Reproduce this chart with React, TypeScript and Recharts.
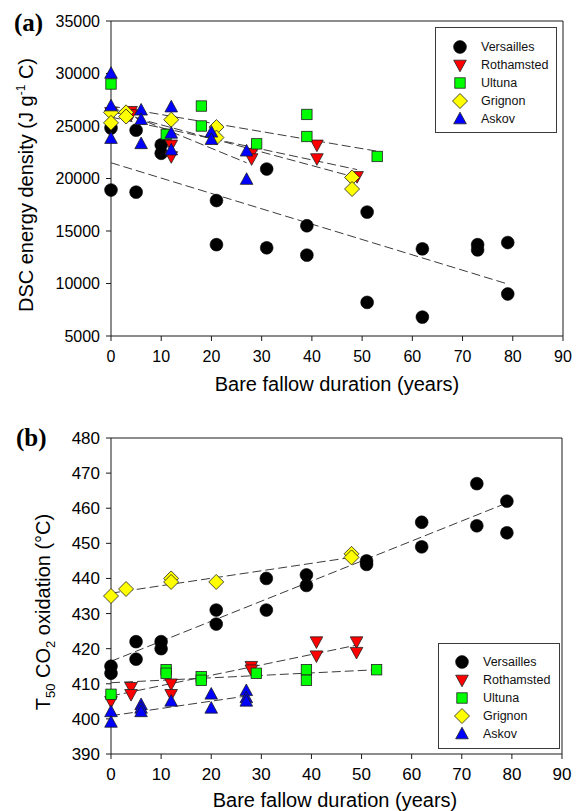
import React from 'react';
import { ScatterChart, Scatter, XAxis, YAxis, ReferenceLine, Legend } from 'recharts';

const FONT = 'Arial, "Liberation Sans", Helvetica, sans-serif';

type MarkerKind = 'circle' | 'down' | 'square' | 'diamond' | 'up';

const siteNames = ['Versailles', 'Rothamsted', 'Ultuna', 'Grignon', 'Askov'];
const siteColors = ['#000000', '#ff0000', '#00ff00', '#ffff00', '#0000ff'];
const siteMarkers: MarkerKind[] = ['circle', 'down', 'square', 'diamond', 'up'];

const yearTicks = [0, 10, 20, 30, 40, 50, 60, 70, 80, 90];
const energyTicks = [5000, 10000, 15000, 20000, 25000, 30000, 35000];
const t50Ticks = [390, 400, 410, 420, 430, 440, 450, 460, 470, 480];

// (a) DSC energy density, J g-1 C
const versaillesYearsA = [0, 0, 5, 5, 10, 10, 21, 21, 31, 31, 39, 39, 51, 51, 62, 62, 73, 73, 79, 79];
const versaillesEnergy = [24800, 18900, 24600, 18700, 23200, 22400, 17900, 13700, 20900, 13400, 15500, 12700, 16800, 8200, 13300, 6800, 13700, 13200, 13900, 9000];
const rothamstedYearsA = [0, 4, 4, 12, 12, 28, 28, 41, 41, 49];
const rothamstedEnergy = [26300, 26400, 26100, 23200, 22100, 22400, 21900, 23200, 21900, 20200];
const ultunaYearsA = [0, 11, 18, 18, 29, 39, 39, 53];
const ultunaEnergy = [29000, 24200, 26900, 25000, 23300, 26100, 24000, 22100];
const grignonYearsA = [0, 0, 3, 3, 12, 21, 21, 48, 48];
const grignonEnergy = [26300, 25300, 26300, 25900, 25600, 24900, 23900, 20100, 19000];
const askovYearsA = [0, 0, 0, 6, 6, 6, 12, 12, 12, 20, 20, 27, 27];
const askovEnergy = [30000, 26900, 23800, 26500, 25600, 23300, 26800, 24300, 22700, 24400, 23700, 22600, 19900];

// (a) regression lines, end points
const versaillesFitA = [[0, 79], [21500, 9950]];
const rothamstedFitA = [[0, 49], [25850, 20850]];
const ultunaFitA = [[0, 53], [26900, 22600]];
const grignonFitA = [[0, 48], [26400, 20200]];
const askovFitA = [[0, 27], [26800, 21500]];

// (b) T50 CO2 oxidation, °C
const versaillesYearsB = [0, 0, 5, 5, 10, 10, 21, 21, 31, 31, 39, 39, 51, 51, 62, 62, 73, 73, 79, 79];
const versaillesT50 = [415, 413, 422, 417, 422, 420, 431, 427, 440, 431, 441, 438, 445, 444, 456, 449, 467, 455, 462, 453];
const rothamstedYearsB = [0, 4, 4, 12, 12, 28, 28, 41, 41, 49, 49];
const rothamstedT50 = [405, 409, 407, 410, 407, 415, 414, 422, 418, 422, 419];
const ultunaYearsB = [0, 11, 11, 18, 18, 29, 39, 39, 53];
const ultunaT50 = [407, 414, 413, 412, 411, 413, 414, 411, 414];
const grignonYearsB = [0, 3, 12, 12, 21, 48, 48];
const grignonT50 = [435, 437, 440, 439, 439, 447, 446];
const askovYearsB = [0, 0, 6, 6, 6, 12, 20, 20, 27, 27, 27];
const askovT50 = [402, 399, 404, 403, 402, 405, 407, 403, 408, 406, 405];

const versaillesFitB = [[0, 79], [416.4, 461.5]];
const rothamstedFitB = [[0, 49], [406.5, 421]];
const ultunaFitB = [[0, 53], [410.3, 414]];
const grignonFitB = [[0, 48], [435.8, 446]];
const askovFitB = [[0, 27], [400.9, 406.5]];

const pts = (xs: number[], ys: number[]) => xs.map((x, i) => ({ x, y: ys[i] }));
const fitPts = (f: number[][]) => pts(f[0], f[1]);

const energySeries = [
  pts(versaillesYearsA, versaillesEnergy),
  pts(rothamstedYearsA, rothamstedEnergy),
  pts(ultunaYearsA, ultunaEnergy),
  pts(grignonYearsA, grignonEnergy),
  pts(askovYearsA, askovEnergy),
];
const energyFits = [versaillesFitA, rothamstedFitA, ultunaFitA, grignonFitA, askovFitA].map(fitPts);

const t50Series = [
  pts(versaillesYearsB, versaillesT50),
  pts(rothamstedYearsB, rothamstedT50),
  pts(ultunaYearsB, ultunaT50),
  pts(grignonYearsB, grignonT50),
  pts(askovYearsB, askovT50),
];
const t50Fits = [versaillesFitB, rothamstedFitB, ultunaFitB, grignonFitB, askovFitB].map(fitPts);

function Marker({ kind, fill, cx, cy }: { kind: MarkerKind; fill: string; cx: number; cy: number }) {
  const stroke = '#202020';
  if (kind === 'circle') return <circle cx={cx} cy={cy} r={6.4} fill={fill} stroke="#000" strokeWidth={0.6} />;
  if (kind === 'square') {
    return <rect x={cx - 5.2} y={cy - 5.2} width={10.4} height={10.4} fill={fill} stroke={stroke} strokeWidth={0.8} />;
  }
  if (kind === 'diamond') {
    return (
      <polygon
        points={`${cx},${cy - 7.5} ${cx + 7.5},${cy} ${cx},${cy + 7.5} ${cx - 7.5},${cy}`}
        fill={fill}
        stroke={stroke}
        strokeWidth={0.8}
      />
    );
  }
  const d = kind === 'up' ? 1 : -1;
  return (
    <polygon
      points={`${cx - 6.3},${cy + 4.8 * d} ${cx + 6.3},${cy + 4.8 * d} ${cx},${cy - 6.8 * d}`}
      fill={fill}
      stroke={stroke}
      strokeWidth={0.8}
    />
  );
}

const LegendBox = ({ width, height, padTop, markerX, textX }: any) => (
  <div
    style={{
      width,
      height,
      boxSizing: 'border-box',
      border: '1.3px solid #3a3a3a',
      background: '#fff',
      paddingTop: padTop,
      fontFamily: FONT,
      fontSize: 12.5,
      color: '#111',
    }}
  >
    {siteNames.map((name, i) => (
      <div key={name} style={{ position: 'relative', height: 18, lineHeight: '18px' }}>
        <svg width={20} height={18} style={{ position: 'absolute', left: markerX - 10, top: 0 }}>
          <Marker kind={siteMarkers[i]} fill={siteColors[i]} cx={10} cy={9} />
        </svg>
        <span style={{ position: 'absolute', left: textX }}>{name}</span>
      </div>
    ))}
  </div>
);

const axisProps = {
  axisLine: { stroke: '#1a1a1a' },
  tickLine: { stroke: '#1a1a1a' },
  tickSize: 5,
};

const EnergyChart = () => (
  <ScatterChart width={581} height={410} margin={{ top: 21, right: 18, bottom: 0, left: 0 }}>
    <XAxis
      dataKey="x"
      type="number"
      domain={[0, 90]}
      ticks={yearTicks}
      height={74}
      tickMargin={10}
      tick={{ fontSize: 16, fill: '#000' }}
      {...axisProps}
      label={{
        content: () => (
          <text x={337} y={391} textAnchor="middle" fontSize={20} fill="#000">
            Bare fallow duration (years)
          </text>
        ),
      }}
    />
    <YAxis
      dataKey="y"
      type="number"
      domain={[5000, 35000]}
      ticks={energyTicks}
      width={111}
      tickMargin={6}
      tick={{ fontSize: 16, fill: '#000' }}
      {...axisProps}
      label={{
        content: () => (
          <text x={33} y={185} transform="rotate(-90 33 185)" textAnchor="middle" fontSize={20} fill="#000">
            DSC energy density (J g
            <tspan dy={-8} fontSize={12}>
              -1
            </tspan>
            <tspan dy={8}> C)</tspan>
          </text>
        ),
      }}
    />
    <ReferenceLine y={35000} stroke="#1a1a1a" />
    <ReferenceLine x={90} stroke="#1a1a1a" />
    {energyFits.map((fit, i) => (
      <Scatter
        key={'fa' + i}
        data={fit}
        line={{ stroke: '#3c3c3c', strokeWidth: 1, strokeDasharray: '9 4' }}
        shape={() => <g />}
        legendType="none"
        isAnimationActive={false}
      />
    ))}
    {energySeries.map((data, i) => (
      <Scatter
        key={siteNames[i]}
        name={siteNames[i]}
        data={data}
        shape={(p: any) => <Marker kind={siteMarkers[i]} fill={siteColors[i]} cx={p.cx} cy={p.cy} />}
        isAnimationActive={false}
      />
    ))}
    <Legend
      layout="vertical"
      align="center"
      verticalAlign="middle"
      wrapperStyle={{ left: 435, top: 27, width: 122, height: 106 }}
      content={() => <LegendBox width={122} height={106} padTop={9.5} markerX={24} textX={45} />}
    />
    <text x={14} y={31} fontFamily='"Times New Roman", "Liberation Serif", serif' fontWeight="bold" fontSize={25} fill="#000">
      (a)
    </text>
  </ScatterChart>
);

const T50Chart = () => (
  <ScatterChart width={581} height={401} margin={{ top: 28, right: 19, bottom: 0, left: 0 }}>
    <XAxis
      dataKey="x"
      type="number"
      domain={[0, 90]}
      ticks={yearTicks}
      height={57}
      tickMargin={9}
      tick={{ fontSize: 17, fill: '#000' }}
      {...axisProps}
      label={{
        content: () => (
          <text x={335} y={397} textAnchor="middle" fontSize={20} fill="#000">
            Bare fallow duration (years)
          </text>
        ),
      }}
    />
    <YAxis
      dataKey="y"
      type="number"
      domain={[390, 480]}
      ticks={t50Ticks}
      width={111}
      tickMargin={6}
      tick={{ fontSize: 17, fill: '#000' }}
      {...axisProps}
      label={{
        content: () => (
          <text x={50} y={202} transform="rotate(-90 50 202)" textAnchor="middle" fontSize={20} fill="#000">
            T
            <tspan dy={5} fontSize={13}>
              50
            </tspan>
            <tspan dy={-5}> CO</tspan>
            <tspan dy={5} fontSize={13}>
              2
            </tspan>
            <tspan dy={-5}> oxidation (°C)</tspan>
          </text>
        ),
      }}
    />
    <ReferenceLine y={480} stroke="#1a1a1a" />
    <ReferenceLine x={90} stroke="#1a1a1a" />
    {t50Fits.map((fit, i) => (
      <Scatter
        key={'fb' + i}
        data={fit}
        line={{ stroke: '#3c3c3c', strokeWidth: 1, strokeDasharray: '9 4' }}
        shape={() => <g />}
        legendType="none"
        isAnimationActive={false}
      />
    ))}
    {t50Series.map((data, i) => (
      <Scatter
        key={siteNames[i]}
        name={siteNames[i]}
        data={data}
        shape={(p: any) => <Marker kind={siteMarkers[i]} fill={siteColors[i]} cx={p.cx} cy={p.cy} />}
        isAnimationActive={false}
      />
    ))}
    <Legend
      layout="vertical"
      align="center"
      verticalAlign="middle"
      wrapperStyle={{ left: 438, top: 233, width: 122, height: 106 }}
      content={() => <LegendBox width={122} height={106} padTop={8.5} markerX={23} textX={44} />}
    />
    <text x={16} y={36} fontFamily='"Times New Roman", "Liberation Serif", serif' fontWeight="bold" fontSize={25} fill="#000">
      (b)
    </text>
  </ScatterChart>
);

export default function App() {
  return (
    <div style={{ position: 'absolute', left: 0, top: 0, width: 581, height: 811, background: '#fff', fontFamily: FONT }}>
      <div style={{ position: 'absolute', left: 0, top: 0 }}>
        <EnergyChart />
      </div>
      <div style={{ position: 'absolute', left: 0, top: 410 }}>
        <T50Chart />
      </div>
    </div>
  );
}
